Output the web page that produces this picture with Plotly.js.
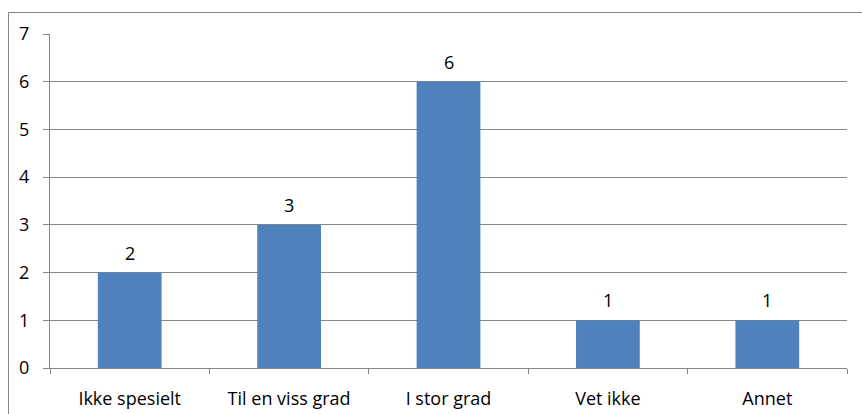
<!DOCTYPE html>
<html><head><meta charset="utf-8">
<script src="https://cdn.plot.ly/plotly-3.0.1.min.js"></script>
<style>html,body{margin:0;padding:0;background:#fff;}#chart{width:862px;height:414px;}</style>
</head><body><div id="chart"></div>
<script>
const categories = ["Ikke spesielt", "Til en viss grad", "I stor grad", "Vet ikke", "Annet"];
const values = [2, 3, 6, 1, 1];
const yTicks = [0, 1, 2, 3, 4, 5, 6, 7];

const W = 862, H = 414, L = 50, R = 15, T = 34, B = 46;
const pw = W - L - R, ph = H - T - B;
const px = v => (v - L) / pw;
const py = v => 1 - (v - T) / ph;
const FONT = 'Open Sans, Liberation Sans, Arial, sans-serif';

Plotly.newPlot('chart', [{
  type: 'bar', x: categories, y: values,
  marker: {color: '#4F81BD'},
  hoverinfo: 'none'
}], {
  width: W, height: H,
  margin: {l: L, r: R, t: T, b: B, pad: 0},
  paper_bgcolor: '#fff', plot_bgcolor: '#fff',
  bargap: 0.6, showlegend: false,
  font: {family: FONT, size: 18, color: '#000'},
  xaxis: {
    type: 'category', tickson: 'boundaries', ticks: 'outside', ticklen: 5, tickcolor: '#868686',
    showline: true, linecolor: '#868686', linewidth: 1, showgrid: false,
    tickfont: {family: FONT, size: 18, color: '#000'}, ticklabelstandoff: 14, fixedrange: true
  },
  yaxis: {
    range: [0, 7], tickvals: yTicks, ticks: 'outside', ticklen: 6, tickcolor: '#868686',
    showline: true, linecolor: '#868686', linewidth: 1,
    showgrid: true, gridcolor: '#868686', gridwidth: 1, zeroline: false,
    tickfont: {family: FONT, size: 18, color: '#000'}, ticklabelstandoff: 10, fixedrange: true
  },
  annotations: categories.map((c, i) => ({
    x: c, y: values[i], xref: 'x', yref: 'y', text: String(values[i]),
    showarrow: false, yanchor: 'bottom', yshift: 6,
    font: {family: FONT, size: 18, color: '#000'}
  })),
  shapes: [{
    type: 'rect', xref: 'paper', yref: 'paper',
    x0: px(8.5), x1: px(900), y0: py(460), y1: py(12.5),
    line: {color: '#868686', width: 1}, fillcolor: 'rgba(0,0,0,0)', layer: 'below'
  }]
}, {displayModeBar: false, staticPlot: true});
</script></body></html>
